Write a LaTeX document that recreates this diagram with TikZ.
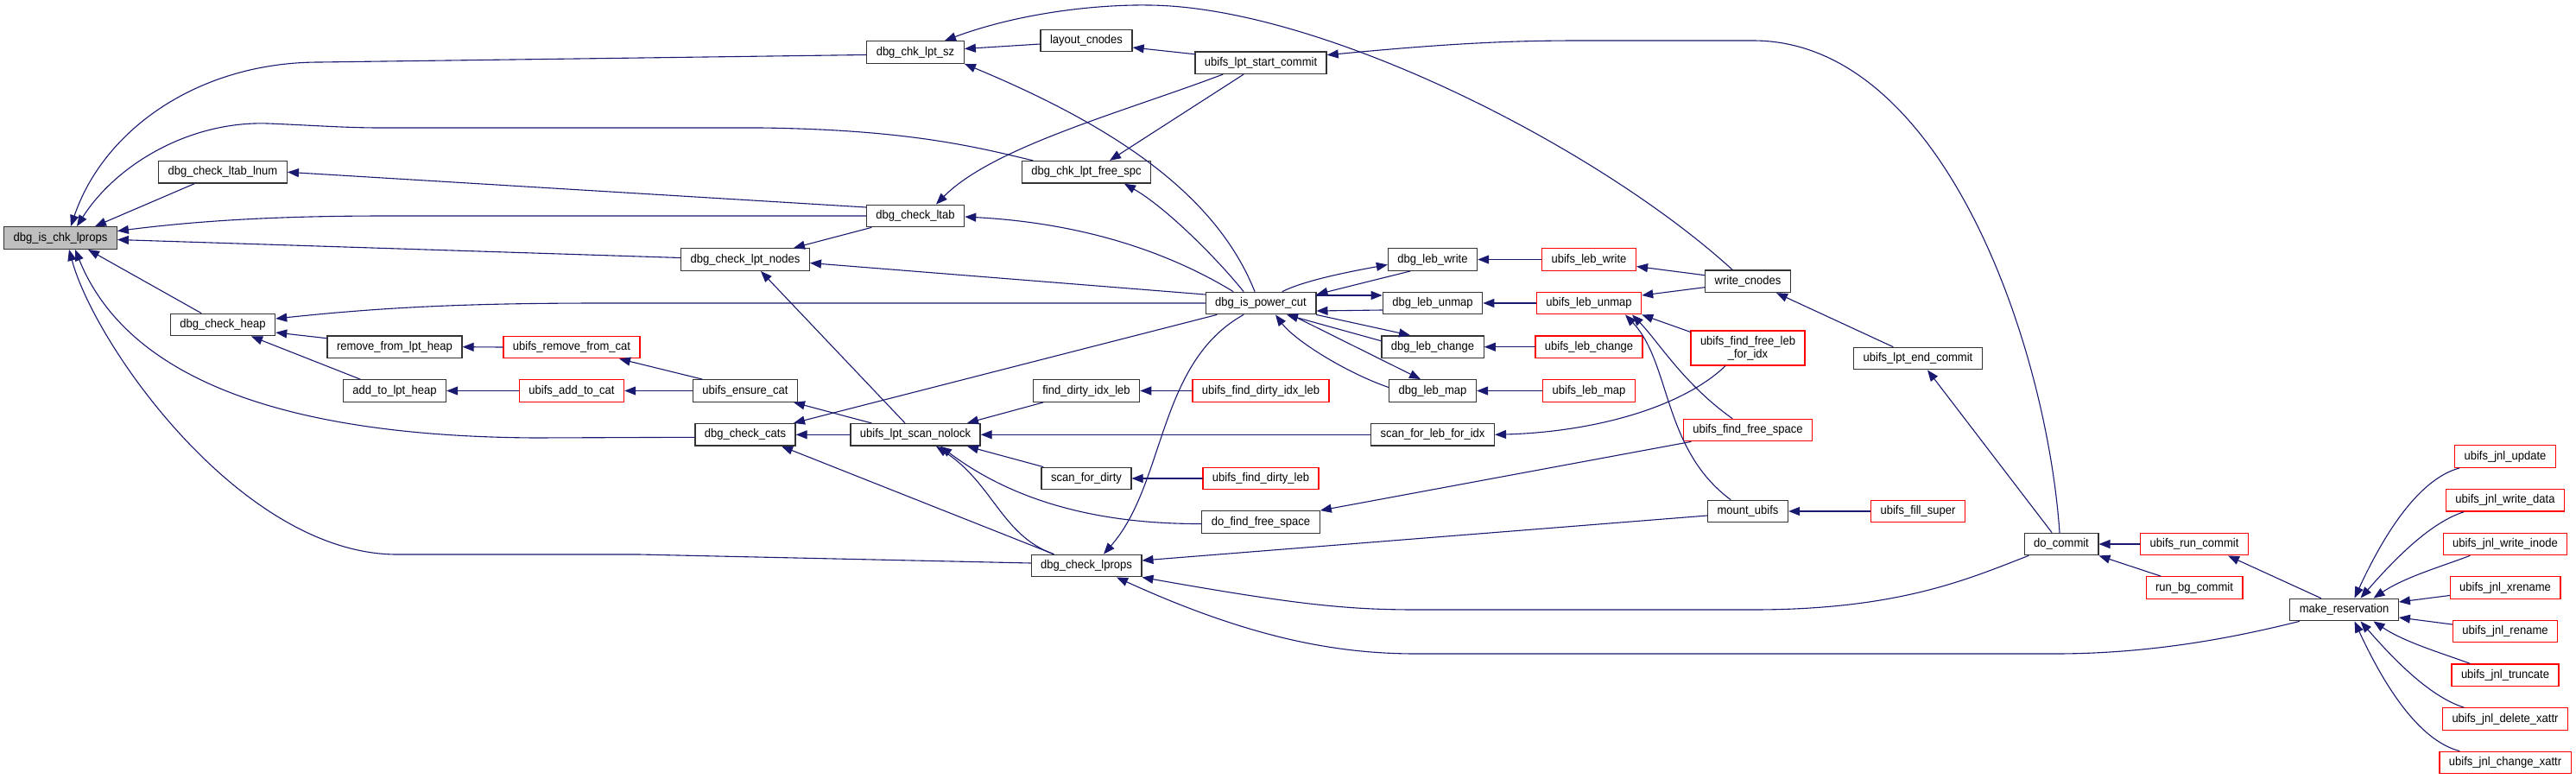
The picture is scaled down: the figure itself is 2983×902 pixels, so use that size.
\documentclass[tikz,border=0pt]{standalone}
\usepackage{fontspec}
\newfontfamily\dxfont[FakeStretch=0.93]{Liberation Sans}
\usetikzlibrary{arrows.meta}
\definecolor{edgeblue}{HTML}{191970}
\definecolor{rootgray}{HTML}{BFBFBF}
\definecolor{boxline}{HTML}{333333}
\definecolor{boxred}{HTML}{FF0000}

\begin{document}
\begin{tikzpicture}[
  x=1pt, y=-1pt,
  font=\dxfont\fontsize{14}{15}\selectfont,
  line cap=round,
  fn/.style={rectangle, draw=boxline, line width=1.3pt, fill=white,
    minimum height=25.6pt, inner xsep=11pt, inner ysep=0pt, align=center},
  fnroot/.style={fn, fill=rootgray},
  fnred/.style={fn, draw=boxred},
  call/.style={{Triangle[length=13pt,width=10pt]}-, draw=edgeblue, line width=1.1pt},
]
  \useasboundingbox (0,0) rectangle (2983,902);
  % Function being called, and its direct callers
  \node[fnroot] (root) at (70,275.5) {dbg\_is\_chk\_lprops};
  \node[fn] (ltablnum) at (258,199.3) {dbg\_check\_ltab\_lnum};
  \node[fn] (heap) at (258,376) {dbg\_check\_heap};
  \node[fn] (rmheap) at (457,401.7) {remove\_from\_lpt\_heap};
  \node[fn] (addheap) at (457,452.5) {add\_to\_lpt\_heap};
  \node[fnred] (rmcat) at (662,402) {ubifs\_remove\_from\_cat};
  \node[fnred] (addcat) at (662,452.5) {ubifs\_add\_to\_cat};
  \node[fn] (lptnodes) at (863,300.5) {dbg\_check\_lpt\_nodes};
  \node[fn] (ensurecat) at (863,452.5) {ubifs\_ensure\_cat};
  \node[fn] (cats) at (863,503.3) {dbg\_check\_cats};
  \node[fn] (lptsz) at (1060,60.5) {dbg\_chk\_lpt\_sz};
  \node[fn] (ltab) at (1060,250) {dbg\_check\_ltab};
  \node[fn] (scannolock) at (1060,503.3) {ubifs\_lpt\_scan\_nolock};
  \node[fn] (layout) at (1258,47) {layout\_cnodes};
  \node[fn] (freespc) at (1258,199.3) {dbg\_chk\_lpt\_free\_spc};
  \node[fn] (finddirtyidx) at (1258,452.5) {find\_dirty\_idx\_leb};
  \node[fn] (scandirty) at (1258,554) {scan\_for\_dirty};
  \node[fn] (lprops) at (1258,655) {dbg\_check\_lprops};
  % Power-cut column
  \node[fn] (startcommit) at (1460,72.7) {ubifs\_lpt\_start\_commit};
  \node[fn] (powercut) at (1460,351) {dbg\_is\_power\_cut};
  \node[fnred] (ubfinddirtyidx) at (1460,452.5) {ubifs\_find\_dirty\_idx\_leb};
  \node[fnred] (ubfinddirty) at (1460,554) {ubifs\_find\_dirty\_leb};
  \node[fn] (dofree) at (1460,604.5) {do\_find\_free\_space};
  \node[fn] (lebwrite) at (1659,300.5) {dbg\_leb\_write};
  \node[fn] (lebunmap) at (1659,351) {dbg\_leb\_unmap};
  \node[fn] (lebchange) at (1659,401.7) {dbg\_leb\_change};
  \node[fn] (lebmap) at (1659,452.5) {dbg\_leb\_map};
  \node[fn] (scanlebidx) at (1659,503.3) {scan\_for\_leb\_for\_idx};
  \node[fnred] (ublebwrite) at (1840,300.5) {ubifs\_leb\_write};
  \node[fnred] (ublebunmap) at (1840,351) {ubifs\_leb\_unmap};
  \node[fnred] (ublebchange) at (1840,401.7) {ubifs\_leb\_change};
  \node[fnred] (ublebmap) at (1840,452.5) {ubifs\_leb\_map};
  \node[fn] (writecnodes) at (2024,325.7) {write\_cnodes};
  \node[fnred, minimum height=40pt] (freelebidx) at (2024,403) {ubifs\_find\_free\_leb\\\_for\_idx};
  \node[fnred] (freespace) at (2024,498) {ubifs\_find\_free\_space};
  \node[fn] (mount) at (2024,592) {mount\_ubifs};
  \node[fn] (endcommit) at (2221,415) {ubifs\_lpt\_end\_commit};
  \node[fnred] (fillsuper) at (2221,592) {ubifs\_fill\_super};
  % Commit and journal side
  \node[fn] (docommit) at (2387,630) {do\_commit};
  \node[fnred] (runcommit) at (2541,630) {ubifs\_run\_commit};
  \node[fnred] (bgcommit) at (2541,680.5) {run\_bg\_commit};
  \node[fn] (makeres) at (2714.5,706) {make\_reservation};
  \node[fnred] (jnlupdate) at (2901,528.5) {ubifs\_jnl\_update};
  \node[fnred] (jnlwritedata) at (2901,579.3) {ubifs\_jnl\_write\_data};
  \node[fnred] (jnlwriteinode) at (2901,630) {ubifs\_jnl\_write\_inode};
  \node[fnred] (jnlxrename) at (2901,680.5) {ubifs\_jnl\_xrename};
  \node[fnred] (jnlrename) at (2901,731) {ubifs\_jnl\_rename};
  \node[fnred] (jnltruncate) at (2901,781.7) {ubifs\_jnl\_truncate};
  \node[fnred] (jnldelxattr) at (2901,832.5) {ubifs\_jnl\_delete\_xattr};
  \node[fnred] (jnlchgxattr) at (2901,883) {ubifs\_jnl\_change\_xattr};

  % Calls into dbg_is_chk_lprops
  \draw[call] ([xshift=12pt]root.north) .. controls (120,150) and (230,72) .. (370,72) -- ([yshift=-3pt]lptsz.west);
  \draw[call] ([xshift=19pt]root.north) .. controls (135,190) and (220,140) .. (310,143)
    .. controls (360,145) and (400,148) .. (440,148) -- (880,148)
    .. controls (1050,150) and (1130,170) .. ([xshift=-62pt]freespc.north);
  \draw[call] ([xshift=40pt]root.north) -- ([xshift=-33pt]ltablnum.south);
  \draw[call] ([yshift=8pt]root.east) .. controls (250,253) and (350,250) .. (450,250) -- (ltab.west);
  \draw[call] ([yshift=-2pt]root.east) -- ([yshift=2pt]lptnodes.west);
  \draw[call] ([xshift=32pt]root.south) -- ([xshift=-25pt]heap.north);
  \draw[call] ([xshift=17pt]root.south) .. controls (140,420) and (290,505) .. (620,507) -- ([yshift=-3pt]cats.west);
  \draw[call] ([xshift=10pt]root.south) .. controls (110,400) and (280,642) .. (460,642) -- (740,642) -- ([yshift=3pt]lprops.west);
  % Left half
  \draw[call] (ltablnum.east) -- ([yshift=10pt]ltab.west);
  \draw[call] ([yshift=-9pt]heap.east) -- ([yshift=10pt]rmheap.west);
  \draw[call] ([xshift=33pt]heap.south) -- ([xshift=-40pt]addheap.north);
  \draw[call] ([yshift=7pt]heap.east) .. controls (450,355) and (550,351) .. (700,351) -- (powercut.west);
  \draw[call] (rmheap.east) -- (rmcat.west);
  \draw[call] (addheap.east) -- (addcat.west);
  \draw[call] ([xshift=55pt]rmcat.south) -- ([xshift=-50pt]ensurecat.north);
  \draw[call] (addcat.east) -- (ensurecat.west);
  \draw[call] ([yshift=4pt]lptsz.east) -- ([yshift=-4pt]layout.west);
  \draw[call] ([xshift=34pt]lptsz.north) .. controls (1180,15) and (1270,5) .. (1331,6)
    .. controls (1530,8) and (1850,170) .. ([xshift=-18pt]writecnodes.north);
  \draw[call] (lptsz.south east) .. controls (1300,150) and (1410,230) .. ([xshift=-7pt]powercut.north);
  \draw[call] ([yshift=-8pt]layout.east) -- ([yshift=10pt]startcommit.west);
  \draw[call] ([yshift=9pt]startcommit.east) .. controls (1680,50) and (1750,47) .. (1830,47) -- (2030,47)
    .. controls (2250,47) and (2370,400) .. ([xshift=-2pt]docommit.north);
  \draw[call] ([xshift=24pt]ltab.north) .. controls (1150,170) and (1300,130) .. ([xshift=-44pt]startcommit.south);
  \draw[call] ([xshift=27pt]freespc.north) -- ([xshift=-20pt]startcommit.south);
  \draw[call] ([xshift=44pt]freespc.south) .. controls (1350,240) and (1410,300) .. ([xshift=-20pt]powercut.north);
  \draw[call] ([yshift=-1pt]ltab.east) .. controls (1250,258) and (1350,290) .. ([xshift=-32pt]powercut.north);
  \draw[call] ([xshift=56pt]lptnodes.north) -- ([xshift=-51pt]ltab.south);
  \draw[call] ([yshift=-4pt]lptnodes.east) -- ([yshift=10pt]powercut.west);
  \draw[call] ([xshift=18pt]lptnodes.south) -- ([xshift=-12pt]scannolock.north);
  \draw[call] ([xshift=56pt]cats.north) -- ([xshift=-51pt]powercut.south);
  \draw[call] ([xshift=56pt]ensurecat.south) -- ([xshift=-51pt]scannolock.north);
  \draw[call] (cats.east) -- (scannolock.west);
  \draw[call] ([xshift=42pt]cats.south) -- ([xshift=-38pt]lprops.north);
  \draw[call] ([xshift=60pt]scannolock.north) -- ([xshift=-50pt]finddirtyidx.south);
  \draw[call] (scannolock.east) -- (scanlebidx.west);
  \draw[call] ([xshift=60pt]scannolock.south) -- ([xshift=-50pt]scandirty.north);
  \draw[call] ([xshift=29pt]scannolock.south) .. controls (1160,570) and (1250,607) .. ([yshift=-2pt]dofree.west);
  \draw[call] ([xshift=24pt]scannolock.south) .. controls (1150,560) and (1160,620) .. ([xshift=-38pt]lprops.north);
  \draw[call] ([xshift=20pt]lprops.north) .. controls (1350,560) and (1340,420) .. ([xshift=-20pt]powercut.south);
  \draw[call] (finddirtyidx.east) -- (ubfinddirtyidx.west);
  \draw[call] (scandirty.east) -- (ubfinddirty.west);
  % dbg_is_power_cut and the leb wrappers
  \draw[call] ([yshift=10pt]powercut.east) -- ([xshift=-26pt]lebwrite.south);
  \draw[call] ([yshift=-6pt]lebwrite.west) .. controls (1560,315) and (1510,325) .. ([xshift=25pt]powercut.north);
  \draw[call] ([yshift=9pt]lebunmap.west) -- ([yshift=9pt]powercut.east);
  \draw[call] ([yshift=-9pt]powercut.east) -- ([yshift=-8pt]lebunmap.west);
  \draw[call] ([xshift=-26pt]lebchange.north) -- (powercut.south east);
  \draw[call] ([xshift=30pt]powercut.south) -- ([yshift=7pt]lebchange.west);
  \draw[call] ([xshift=-14pt]lebmap.north) -- ([xshift=35pt]powercut.south);
  \draw[call] ([xshift=17pt]powercut.south) .. controls (1500,395) and (1560,432) .. ([yshift=4pt]lebmap.west);
  \draw[call] (lebwrite.east) -- (ublebwrite.west);
  \draw[call] (lebunmap.east) -- (ublebunmap.west);
  \draw[call] (lebchange.east) -- (ublebchange.west);
  \draw[call] (lebmap.east) -- (ublebmap.west);
  \draw[call] ([yshift=-8pt]ublebwrite.east) -- ([yshift=7pt]writecnodes.west);
  \draw[call] ([yshift=9pt]ublebunmap.east) -- ([yshift=-7pt]writecnodes.west);
  \draw[call] (ublebunmap.south east) -- ([yshift=-2pt]freelebidx.north west);
  \draw[call] ([xshift=50pt]ublebunmap.south) .. controls (1920,395) and (1950,445) .. ([xshift=-18pt]freespace.north);
  \draw[call] ([xshift=42pt]ublebunmap.south) .. controls (1935,420) and (1925,520) .. ([xshift=-20pt]mount.north);
  \draw[call] (scanlebidx.east) .. controls (1850,500) and (1950,470) .. ([xshift=-26pt]freelebidx.south);
  \draw[call] (dofree.north east) -- ([xshift=-66pt]freespace.south);
  \draw[call] ([xshift=33pt]writecnodes.south) -- ([xshift=-29pt]endcommit.north);
  \draw[call] ([xshift=11pt]endcommit.south) -- ([xshift=-11pt]docommit.north);
  \draw[call] (mount.east) -- (fillsuper.west);
  % dbg_check_lprops callers further right
  \draw[call] ([yshift=6pt]lprops.east) -- ([yshift=-5pt]mount.west);
  \draw[call] (lprops.south east) .. controls (1500,700) and (1560,706) .. (1640,706) -- (2030,706)
    .. controls (2200,706) and (2280,670) .. ([xshift=-38pt]docommit.south);
  \draw[call] ([xshift=35pt]lprops.south) .. controls (1450,740) and (1550,757) .. (1640,757) -- (2380,757)
    .. controls (2500,757) and (2600,735) .. ([xshift=-52pt]makeres.south);
  % Commit and journal
  \draw[call] (docommit.east) -- (runcommit.west);
  \draw[call] (docommit.south east) -- ([xshift=-39pt]bgcommit.north);
  \draw[call] ([xshift=39pt]runcommit.south) -- ([xshift=-27pt]makeres.north);
  \draw[call] ([xshift=12pt]makeres.north) .. controls (2760,620) and (2800,555) .. ([xshift=-53pt]jnlupdate.south);
  \draw[call] ([xshift=19pt]makeres.north) .. controls (2775,645) and (2815,605) .. ([xshift=-48pt]jnlwritedata.south);
  \draw[call] ([xshift=34pt]makeres.north) .. controls (2785,668) and (2830,655) .. ([xshift=-41pt]jnlwriteinode.south);
  \draw[call] ([yshift=9pt]makeres.east) -- ([yshift=-9pt]jnlxrename.west);
  \draw[call] ([yshift=-9pt]makeres.east) -- ([yshift=8pt]jnlrename.west);
  \draw[call] ([xshift=34pt]makeres.south) .. controls (2785,744) and (2830,757) .. ([xshift=-41pt]jnltruncate.north);
  \draw[call] ([xshift=19pt]makeres.south) .. controls (2775,767) and (2815,807) .. ([xshift=-48pt]jnldelxattr.north);
  \draw[call] ([xshift=12pt]makeres.south) .. controls (2760,792) and (2800,857) .. ([xshift=-53pt]jnlchgxattr.north);
\end{tikzpicture}
\end{document}
